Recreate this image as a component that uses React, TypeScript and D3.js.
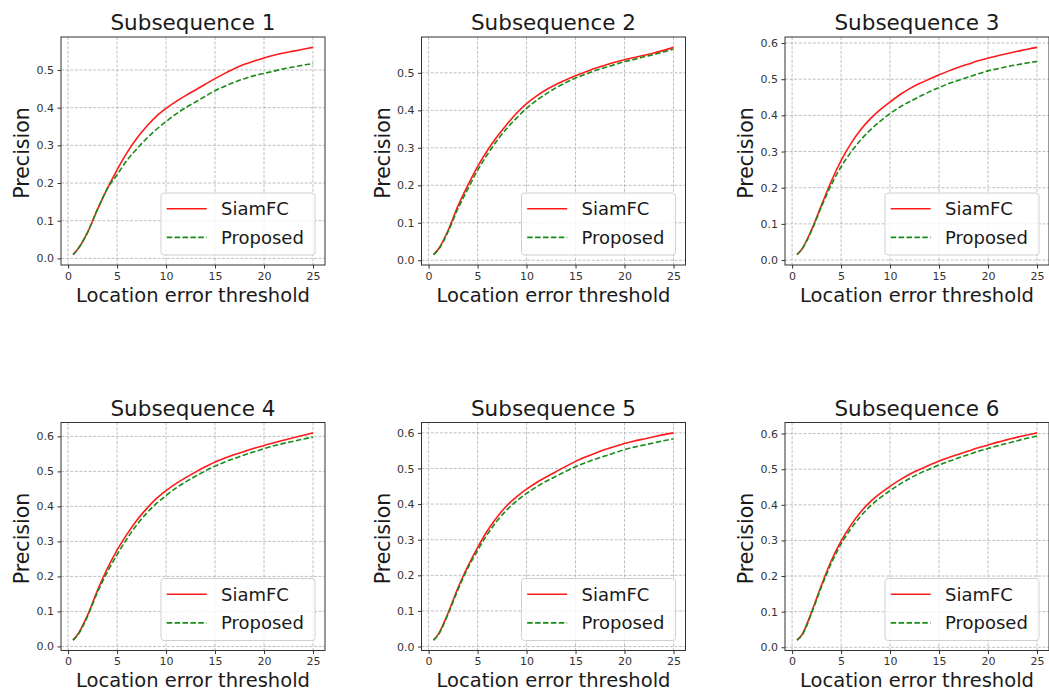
import React, { useEffect, useRef } from 'react'
import * as d3 from 'd3'

// location error thresholds (px)
const thresholds = [0.5, 1, 2, 3, 4, 5, 6, 7, 8, 9, 10, 11, 12, 13, 14, 15, 16, 17, 18, 19, 20, 21, 22, 23, 24, 25]

const siamfc1 = [0.01, 0.025, 0.07, 0.13, 0.185, 0.235, 0.28, 0.318, 0.35, 0.377, 0.398, 0.416, 0.432, 0.447, 0.462, 0.477, 0.491, 0.504, 0.515, 0.524, 0.532, 0.539, 0.545, 0.55, 0.555, 0.56]
const proposed1 = [0.01, 0.025, 0.07, 0.13, 0.185, 0.222, 0.26, 0.29, 0.318, 0.342, 0.363, 0.383, 0.4, 0.415, 0.43, 0.445, 0.457, 0.468, 0.477, 0.485, 0.491, 0.497, 0.503, 0.508, 0.513, 0.517]

const siamfc2 = [0.015, 0.03, 0.08, 0.145, 0.2, 0.25, 0.293, 0.33, 0.363, 0.393, 0.418, 0.438, 0.455, 0.469, 0.481, 0.492, 0.502, 0.512, 0.52, 0.528, 0.535, 0.541, 0.547, 0.553, 0.56, 0.568]
const proposed2 = [0.015, 0.028, 0.077, 0.138, 0.19, 0.24, 0.282, 0.32, 0.352, 0.38, 0.405, 0.426, 0.444, 0.46, 0.474, 0.486, 0.496, 0.506, 0.514, 0.522, 0.53, 0.536, 0.543, 0.549, 0.556, 0.563]

const siamfc3 = [0.015, 0.03, 0.085, 0.152, 0.218, 0.275, 0.322, 0.36, 0.391, 0.416, 0.437, 0.457, 0.474, 0.488, 0.5, 0.512, 0.523, 0.533, 0.542, 0.551, 0.558, 0.565, 0.571, 0.577, 0.583, 0.588]
const proposed3 = [0.015, 0.03, 0.082, 0.148, 0.208, 0.258, 0.298, 0.332, 0.36, 0.384, 0.405, 0.423, 0.438, 0.452, 0.465, 0.477, 0.488, 0.497, 0.506, 0.515, 0.523, 0.529, 0.535, 0.54, 0.545, 0.549]

const siamfc4 = [0.018, 0.035, 0.09, 0.16, 0.222, 0.275, 0.32, 0.36, 0.393, 0.422, 0.445, 0.465, 0.482, 0.498, 0.513, 0.527, 0.538, 0.548, 0.557, 0.566, 0.574, 0.582, 0.589, 0.596, 0.603, 0.61]
const proposed4 = [0.018, 0.033, 0.087, 0.155, 0.212, 0.262, 0.307, 0.347, 0.38, 0.408, 0.431, 0.452, 0.47, 0.486, 0.501, 0.515, 0.527, 0.537, 0.547, 0.556, 0.565, 0.573, 0.58, 0.586, 0.592, 0.598]

const siamfc5 = [0.018, 0.035, 0.095, 0.165, 0.225, 0.278, 0.325, 0.364, 0.396, 0.421, 0.442, 0.46, 0.476, 0.491, 0.506, 0.52, 0.532, 0.543, 0.553, 0.562, 0.57, 0.577, 0.583, 0.589, 0.595, 0.6]
const proposed5 = [0.018, 0.033, 0.092, 0.16, 0.22, 0.27, 0.315, 0.353, 0.384, 0.409, 0.43, 0.448, 0.464, 0.478, 0.492, 0.505, 0.516, 0.526, 0.535, 0.544, 0.553, 0.56, 0.566, 0.572, 0.578, 0.583]

const siamfc6 = [0.02, 0.035, 0.1, 0.175, 0.243, 0.298, 0.343, 0.38, 0.409, 0.432, 0.452, 0.47, 0.486, 0.499, 0.511, 0.523, 0.533, 0.542, 0.551, 0.56, 0.568, 0.576, 0.583, 0.59, 0.596, 0.602]
const proposed6 = [0.02, 0.033, 0.097, 0.17, 0.236, 0.29, 0.333, 0.368, 0.397, 0.42, 0.44, 0.458, 0.474, 0.488, 0.5, 0.512, 0.522, 0.532, 0.541, 0.55, 0.558, 0.566, 0.573, 0.58, 0.587, 0.593]

const titles = ['Subsequence 1', 'Subsequence 2', 'Subsequence 3', 'Subsequence 4', 'Subsequence 5', 'Subsequence 6']
const siamfcSeries = [siamfc1, siamfc2, siamfc3, siamfc4, siamfc5, siamfc6]
const proposedSeries = [proposed1, proposed2, proposed3, proposed4, proposed5, proposed6]
const legendLabels = ['SiamFC', 'Proposed']
const xTicks = [0, 5, 10, 15, 20, 25]

const FONT = 'DejaVu Sans, sans-serif'

function App() {
    const ref = useRef<SVGSVGElement>(null)

    useEffect(() => {
        const svg = d3.select(ref.current)
        svg.selectAll('*').remove()

        const width = 264
        const height = 228
        const lefts = [61, 421.5, 785]
        const tops = [37, 422.5]

        titles.forEach((title, i) => {
            const left = lefts[i % 3]
            const top = tops[Math.floor(i / 3)]
            const red = siamfcSeries[i]
            const green = proposedSeries[i]

            // matplotlib style 5% margins
            const xMin = d3.min(thresholds)!
            const xMax = d3.max(thresholds)!
            const xPad = (xMax - xMin) * 0.05
            const yMin = Math.min(d3.min(red)!, d3.min(green)!)
            const yMax = Math.max(d3.max(red)!, d3.max(green)!)
            const yPad = (yMax - yMin) * 0.05

            const xScale = d3.scaleLinear().domain([xMin - xPad, xMax + xPad]).range([0, width])
            const yScale = d3.scaleLinear().domain([yMin - yPad, yMax + yPad]).range([height, 0])
            const yTicks = d3.range(0, 0.65, 0.1).filter(v => v <= yMax + yPad + 1e-9)

            const g = svg.append('g').attr('transform', 'translate(' + left + ',' + top + ')')

            // grid
            g.append('g').selectAll('line').data(xTicks).enter().append('line')
                .attr('x1', d => xScale(d)).attr('x2', d => xScale(d))
                .attr('y1', 0).attr('y2', height)
                .attr('stroke', '#b0b0b0').attr('stroke-width', 0.8).attr('stroke-dasharray', '3,1.6')
            g.append('g').selectAll('line').data(yTicks).enter().append('line')
                .attr('x1', 0).attr('x2', width)
                .attr('y1', d => yScale(d)).attr('y2', d => yScale(d))
                .attr('stroke', '#b0b0b0').attr('stroke-width', 0.8).attr('stroke-dasharray', '3,1.6')

            const line = d3.line<number>()
                .x((d, k) => xScale(thresholds[k]))
                .y(d => yScale(d))
                .curve(d3.curveMonotoneX)

            g.append('path').datum(red)
                .attr('d', line).attr('fill', 'none')
                .attr('stroke', '#ff1a1a').attr('stroke-width', 1.6)
            g.append('path').datum(green)
                .attr('d', line).attr('fill', 'none')
                .attr('stroke', '#1a8a1a').attr('stroke-width', 1.6).attr('stroke-dasharray', '5.5,2.4')

            // axes
            const axisB = d3.axisBottom(xScale).tickValues(xTicks).tickSize(3.5).tickPadding(3.5)
            const axisL = d3.axisLeft(yScale).tickValues(yTicks).tickSize(3.5).tickPadding(3.5).tickFormat(d3.format('.1f'))

            const gx = g.append('g').attr('transform', 'translate(0,' + height + ')').call(axisB)
            const gy = g.append('g').call(axisL)
            ;[gx, gy].forEach(a => {
                a.select('.domain').remove()
                a.selectAll('line').attr('stroke', '#333')
                a.selectAll('text').attr('fill', '#333').style('font-family', FONT).style('font-size', '11px')
            })

            g.append('rect')
                .attr('width', width).attr('height', height)
                .attr('fill', 'none').attr('stroke', '#333').attr('stroke-width', 1)

            // labels
            g.append('text')
                .attr('x', width / 2).attr('y', -7)
                .attr('text-anchor', 'middle')
                .style('font-family', FONT).style('font-size', '21.5px').attr('fill', '#1a1a1a')
                .text(title)
            g.append('text')
                .attr('x', width / 2).attr('y', height + 36.5)
                .attr('text-anchor', 'middle')
                .style('font-family', FONT).style('font-size', '19.5px').attr('fill', '#1a1a1a')
                .text('Location error threshold')
            g.append('text')
                .attr('transform', 'translate(-32,' + (height / 2 + 2) + ') rotate(-90)')
                .attr('text-anchor', 'middle')
                .style('font-family', FONT).style('font-size', '20.5px').attr('fill', '#1a1a1a')
                .text('Precision')

            // legend
            const lw = 154
            const lh = 62
            const lg = g.append('g').attr('transform', 'translate(' + (width - 10 - lw) + ',' + (height - 10 - lh) + ')')
            lg.append('rect')
                .attr('width', lw).attr('height', lh).attr('rx', 3)
                .attr('fill', 'white').attr('fill-opacity', 0.8)
                .attr('stroke', '#d0d0d0').attr('stroke-width', 1)
            legendLabels.forEach((label, k) => {
                const cy = 15.7 + k * 28.7
                lg.append('line')
                    .attr('x1', 5.7).attr('x2', 45.7).attr('y1', cy).attr('y2', cy)
                    .attr('stroke', k === 0 ? '#ff1a1a' : '#1a8a1a').attr('stroke-width', 1.6)
                    .attr('stroke-dasharray', k === 0 ? null : '5.5,2.4')
                lg.append('text')
                    .attr('x', 60).attr('y', cy + 6.5)
                    .style('font-family', FONT).style('font-size', '18px').attr('fill', '#1a1a1a')
                    .text(label)
            })
        })
    }, [])

    return (
        <svg ref={ref} width={1049} height={693}
            style={{ position: 'absolute', left: 0, top: 0, background: 'white' }}></svg>
    )
}

export default App
